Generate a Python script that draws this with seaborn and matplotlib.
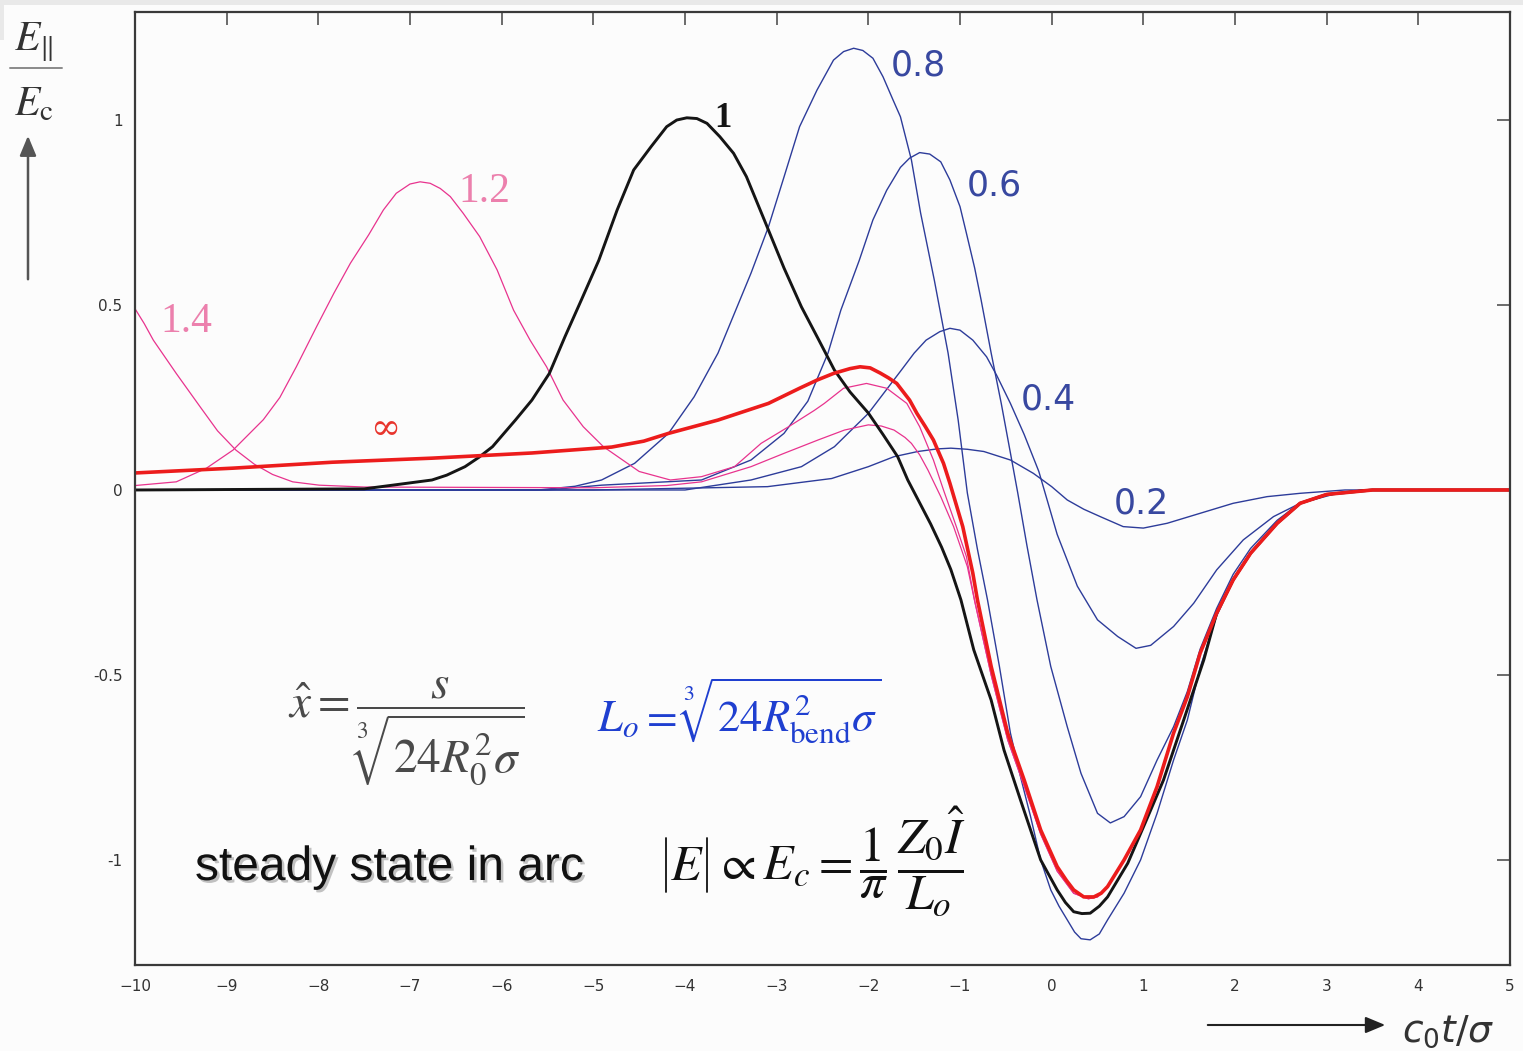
import matplotlib
matplotlib.use("Agg")
import matplotlib.pyplot as plt
import matplotlib.patheffects as pe
from matplotlib.patches import Rectangle, FancyArrowPatch
from matplotlib.lines import Line2D
import pandas as pd
import seaborn as sns

# ---- field profiles E_par / E_c versus c0 t / sigma, one per position x_hat ----
x_02 = [-10, -5, -3.1, -2.4, -2.0, -1.72, -1.46, -1.25, -1.1, -0.92, -0.74, -0.45, -0.2, 0.0, 0.17, 0.35, 0.53,
        0.78, 1.0, 1.26, 1.62, 1.98, 2.35, 2.71, 3.2, 5]
y_02 = [0, 0, 0.009, 0.031, 0.063, 0.09, 0.104, 0.111, 0.113, 0.11, 0.104, 0.081, 0.045, 0.009, -0.027, -0.052,
        -0.072, -0.099, -0.103, -0.09, -0.063, -0.036, -0.018, -0.009, 0, 0]

x_04 = [-10, -4.0, -3.28, -2.73, -2.37, -2.0, -1.64, -1.5, -1.37, -1.22, -1.11, -1.0, -0.86, -0.71, -0.6, -0.45,
        -0.3, -0.14, 0.06, 0.28, 0.5, 0.72, 0.92, 1.08, 1.33, 1.55, 1.8, 2.09, 2.42, 2.71, 3.1, 3.5, 5]
y_04 = [0, 0, 0.027, 0.063, 0.117, 0.207, 0.324, 0.37, 0.405, 0.428, 0.437, 0.432, 0.405, 0.36, 0.31, 0.234,
        0.15, 0.05, -0.12, -0.26, -0.351, -0.396, -0.428, -0.42, -0.369, -0.306, -0.216, -0.135, -0.072, -0.036,
        -0.01, 0, 0]

x_06 = [-10, -5.5, -4.91, -3.82, -3.28, -2.92, -2.66, -2.44, -2.3, -2.1, -1.95, -1.8, -1.65, -1.55, -1.44, -1.33,
        -1.21, -1.11, -1.0, -0.93, -0.84, -0.77, -0.66, -0.55, -0.45, -0.37, -0.27, -0.16, -0.01, 0.17, 0.32,
        0.5, 0.64, 0.79, 0.97, 1.15, 1.33, 1.48, 1.62, 1.8, 1.98, 2.17, 2.46, 2.71, 3.0, 3.4, 5]
y_06 = [0, 0, 0.013, 0.027, 0.081, 0.153, 0.24, 0.37, 0.486, 0.62, 0.73, 0.81, 0.872, 0.897, 0.912, 0.908,
        0.887, 0.838, 0.766, 0.694, 0.6, 0.514, 0.37, 0.234, 0.1, -0.008, -0.15, -0.297, -0.477, -0.64, -0.766,
        -0.874, -0.9, -0.883, -0.829, -0.73, -0.64, -0.545, -0.43, -0.32, -0.228, -0.158, -0.082, -0.035,
        -0.012, 0, 0]

x_08 = [-10, -5.6, -5.2, -4.91, -4.55, -4.18, -3.9, -3.64, -3.46, -3.28, -3.09, -2.92, -2.75, -2.56, -2.38,
        -2.27, -2.16, -2.06, -1.95, -1.84, -1.73, -1.65, -1.53, -1.43, -1.28, -1.13, -1.02, -0.92, -0.81, -0.7,
        -0.57, -0.45, -0.34, -0.23, -0.12, -0.01, 0.08, 0.17, 0.25, 0.32, 0.42, 0.52, 0.61, 0.79, 0.97, 1.15,
        1.33, 1.48, 1.62, 1.8, 1.98, 2.17, 2.46, 2.71, 3.0, 3.4, 5]
y_08 = [0, 0, 0.01, 0.027, 0.072, 0.153, 0.252, 0.37, 0.478, 0.586, 0.711, 0.846, 0.982, 1.081, 1.162, 1.185,
        1.194, 1.188, 1.167, 1.117, 1.054, 1.009, 0.892, 0.749, 0.567, 0.37, 0.189, -0.008, -0.16, -0.297,
        -0.477, -0.657, -0.775, -0.883, -1.0, -1.081, -1.125, -1.162, -1.195, -1.213, -1.216, -1.2, -1.162,
        -1.09, -1.0, -0.874, -0.73, -0.622, -0.48, -0.34, -0.245, -0.17, -0.09, -0.036, -0.012, 0, 0]

x_10 = [-10, -7.5, -7.19, -6.76, -6.6, -6.4, -6.25, -6.1, -5.85, -5.67, -5.48, -5.31, -5.13, -4.94, -4.74,
        -4.56, -4.37, -4.2, -4.09, -3.98, -3.87, -3.76, -3.62, -3.47, -3.33, -3.15, -2.92, -2.73, -2.55, -2.37,
        -2.2, -2.0, -1.84, -1.68, -1.57, -1.45, -1.32, -1.2, -1.1, -0.99, -0.85, -0.66, -0.52, -0.34, -0.12,
        0.06, 0.15, 0.24, 0.33, 0.42, 0.52, 0.61, 0.83, 1.02, 1.22, 1.44, 1.66, 1.8, 1.98, 2.17, 2.46, 2.71,
        3.0, 3.5, 5]
y_10 = [0, 0.003, 0.013, 0.027, 0.04, 0.063, 0.088, 0.117, 0.189, 0.243, 0.315, 0.414, 0.514, 0.621, 0.757,
        0.865, 0.928, 0.982, 1.0, 1.006, 1.004, 0.991, 0.955, 0.91, 0.847, 0.739, 0.6, 0.495, 0.41, 0.324,
        0.265, 0.208, 0.15, 0.09, 0.027, -0.03, -0.092, -0.155, -0.215, -0.297, -0.432, -0.568, -0.703,
        -0.838, -1.0, -1.081, -1.115, -1.14, -1.145, -1.144, -1.125, -1.1, -1.009, -0.9, -0.784, -0.622,
        -0.459, -0.333, -0.243, -0.171, -0.09, -0.036, -0.012, 0, 0]

x_12 = [-10, -9.55, -9.22, -8.93, -8.6, -8.42, -8.24, -8.02, -7.83, -7.65, -7.45, -7.29, -7.15, -7.0, -6.89,
        -6.78, -6.67, -6.56, -6.42, -6.24, -6.05, -5.87, -5.69, -5.51, -5.33, -5.11, -4.89, -4.5, -4.16, -3.82,
        -3.46, -3.17, -2.87, -2.59, -2.48, -2.27, -2.02, -1.8, -1.58, -1.44, -1.29, -1.18, -1.04, -0.93, -0.84,
        -0.66, -0.48, -0.3, -0.12, 0.06, 0.24, 0.4, 0.5, 0.61, 0.79, 0.97, 1.15, 1.33, 1.48, 1.62, 1.8, 1.98,
        2.17, 2.46, 2.71, 3.0, 3.5, 5]
y_12 = [0.012, 0.022, 0.059, 0.108, 0.19, 0.25, 0.333, 0.441, 0.532, 0.613, 0.69, 0.757, 0.802, 0.827, 0.833,
        0.829, 0.815, 0.793, 0.748, 0.685, 0.595, 0.486, 0.405, 0.333, 0.243, 0.171, 0.117, 0.05, 0.027, 0.036,
        0.063, 0.126, 0.171, 0.215, 0.234, 0.275, 0.288, 0.275, 0.234, 0.171, 0.081, 0.0, -0.099, -0.18, -0.3,
        -0.5, -0.675, -0.8, -0.93, -1.03, -1.09, -1.105, -1.1, -1.075, -1.0, -0.92, -0.8, -0.655, -0.555,
        -0.44, -0.332, -0.242, -0.17, -0.09, -0.036, -0.012, 0, 0]

x_14 = [-10, -9.9, -9.8, -9.55, -9.29, -9.1, -8.9, -8.7, -8.5, -8.28, -7.99, -7.5, -5.0, -4.2, -3.82, -3.28,
        -2.92, -2.55, -2.26, -2.0, -1.86, -1.72, -1.6, -1.53, -1.44, -1.35, -1.21, -1.07, -0.92, -0.84, -0.66,
        -0.48, -0.3, -0.12, 0.06, 0.24, 0.4, 0.5, 0.61, 0.79, 0.97, 1.15, 1.33, 1.48, 1.62, 1.8, 1.98, 2.17,
        2.46, 2.71, 3.0, 3.5, 5]
y_14 = [0.49, 0.45, 0.405, 0.315, 0.225, 0.16, 0.108, 0.07, 0.042, 0.022, 0.013, 0.008, 0.006, 0.012, 0.022,
        0.063, 0.099, 0.135, 0.162, 0.176, 0.173, 0.162, 0.142, 0.126, 0.095, 0.054, -0.018, -0.099, -0.207,
        -0.3, -0.5, -0.675, -0.8, -0.93, -1.03, -1.09, -1.105, -1.1, -1.075, -1.0, -0.92, -0.8, -0.655, -0.555,
        -0.44, -0.332, -0.242, -0.17, -0.09, -0.036, -0.012, 0, 0]

x_inf = [-10, -8.93, -7.85, -6.76, -5.67, -4.8, -4.45, -4.18, -3.64, -3.09, -2.75, -2.56, -2.38, -2.2, -2.09,
         -1.98, -1.87, -1.78, -1.69, -1.55, -1.47, -1.38, -1.29, -1.18, -1.11, -0.97, -0.86, -0.81, -0.66, -0.48,
         -0.3, -0.12, 0.06, 0.16, 0.24, 0.35, 0.46, 0.54, 0.61, 0.79, 0.97, 1.15, 1.33, 1.48, 1.62, 1.8, 1.98,
         2.17, 2.46, 2.71, 3.0, 3.5, 5]
y_inf = [0.046, 0.059, 0.075, 0.086, 0.1, 0.116, 0.132, 0.153, 0.189, 0.234, 0.275, 0.297, 0.315, 0.328, 0.333,
         0.33, 0.316, 0.303, 0.288, 0.243, 0.207, 0.172, 0.135, 0.072, 0.018, -0.099, -0.225, -0.297, -0.477,
         -0.657, -0.784, -0.919, -1.018, -1.055, -1.081, -1.1, -1.1, -1.09, -1.072, -1.0, -0.919, -0.802, -0.657,
         -0.559, -0.441, -0.333, -0.243, -0.171, -0.09, -0.036, -0.012, 0, 0]

x_ticks = [-10, -9, -8, -7, -6, -5, -4, -3, -2, -1, 0, 1, 2, 3, 4, 5]
x_tick_labels = ["\u221210", "\u22129", "\u22128", "\u22127", "\u22126", "\u22125", "\u22124", "\u22123",
                 "\u22122", "\u22121", "0", "1", "2", "3", "4", "5"]
y_ticks = [-1, -0.5, 0, 0.5, 1]
y_tick_labels = ["-1", "-0.5", "0", "0.5", "1"]

W, H, DPI = 1523, 1051, 100
BLUE = "#2d3c9a"
PINK = "#e8338e"
BLACK = "#151515"
RED = "#ec1c1c"

sns.set_theme(style="white")
plt.rcParams["font.family"] = ["DejaVu Sans"]
plt.rcParams["mathtext.fontset"] = "stix"

fig = plt.figure(figsize=(W / DPI, H / DPI), dpi=DPI, facecolor="#fcfcfc")


def fx(px):
    return px / W


def fy(py):
    return 1 - py / H


ax = fig.add_axes([fx(135), fy(965), (1510 - 135) / W, (965 - 12) / H])
ax.set_facecolor("#fcfcfc")

# thin grey strip along the top edge of the canvas
fig.patches.append(Rectangle((0, fy(5)), 1, 5 / H, transform=fig.transFigure,
                             facecolor="#e9e9e9", edgecolor="none", zorder=0))
fig.patches.append(Rectangle((0, fy(40)), 4 / W, 40 / H, transform=fig.transFigure,
                             facecolor="#e9e9e9", edgecolor="none", zorder=0))

curves = [
    (x_02, y_02, BLUE, 1.0),
    (x_04, y_04, BLUE, 1.0),
    (x_06, y_06, BLUE, 1.0),
    (x_08, y_08, BLUE, 1.0),
    (x_12, y_12, PINK, 0.9),
    (x_14, y_14, PINK, 0.9),
    (x_10, y_10, BLACK, 2.1),
    (x_inf, y_inf, RED, 2.6),
]
for xs, ys, col, lw in curves:
    df = pd.DataFrame({"t": xs, "E": ys})
    sns.lineplot(data=df, x="t", y="E", ax=ax, color=col, linewidth=lw,
                 sort=False, estimator=None, legend=False)

ax.set_xlim(-10, 5)
ax.set_ylim(-1.284, 1.292)
ax.set_xlabel("")
ax.set_ylabel("")
ax.set_xticks(x_ticks)
ax.set_xticklabels(x_tick_labels)
ax.set_yticks(y_ticks)
ax.set_yticklabels(y_tick_labels)
ax.tick_params(axis="both", direction="in", length=9.4, width=1.1, color="#444444",
               labelsize=11, labelcolor="#333333", top=True, right=True)
ax.tick_params(axis="x", pad=10)
ax.tick_params(axis="y", pad=9)
for sp in ax.spines.values():
    sp.set_color("#3a3a3a")
    sp.set_linewidth(1.6)
    sp.set_visible(True)

# curve labels
blue_lab = "#3848a0"
for txt, px, py in [("0.8", 918, 75), ("0.6", 994, 195), ("0.4", 1048, 410), ("0.2", 1141, 513)]:
    fig.text(fx(px), fy(py), txt, color=blue_lab, fontsize=25, ha="center", va="baseline",
             family="DejaVu Sans")
for txt, px, py in [("1.2", 484, 202), ("1.4", 186, 332)]:
    fig.text(fx(px), fy(py), txt, color="#ec80ad", fontsize=30, ha="center", va="baseline",
             family="Liberation Serif")
fig.text(fx(723), fy(127), "1", color=BLACK, fontsize=25, fontweight="bold", ha="center",
         va="baseline", family="Liberation Serif")
fig.text(fx(385), fy(429), "\u221e", color="#e8352d", fontsize=26, ha="center", va="center",
         family="DejaVu Serif")

# vertical quantity label with arrow
fig.text(fx(14), fy(50), r"$E_{\Vert}$", fontsize=30, color="#333333", ha="left", va="baseline")
fig.add_artist(Line2D([fx(10), fx(62)], [fy(68), fy(68)], color="#8a8a8a", lw=1.4))
fig.text(fx(14), fy(115), r"$E_{\mathrm{c}}$", fontsize=30, color="#333333", ha="left", va="baseline")
fig.add_artist(FancyArrowPatch((fx(28), fy(282)), (fx(28), fy(133)), transform=fig.transFigure,
                               arrowstyle="-|>,head_length=12,head_width=5", color="#555555",
                               lw=1.8, mutation_scale=1))

# horizontal quantity label with arrow
fig.add_artist(FancyArrowPatch((fx(1205), fy(1025)), (fx(1388), fy(1025)), transform=fig.transFigure,
                               arrowstyle="-|>,head_length=12,head_width=5", color="#222222",
                               lw=1.5, mutation_scale=1))
fig.text(fx(1402), fy(1042), r"$c_0t/\sigma$", fontsize=27, color="#333333", ha="left",
         va="baseline", math_fontfamily="dejavusans")

# formulas
fig.text(fx(288), fy(732), r"$\hat{x}=\dfrac{s}{\sqrt[3]{24R_0^2\sigma}}$", fontsize=34,
         color="#4a4a4a", ha="left", va="center")
fig.text(fx(597), fy(711), r"$L_o=\sqrt[3]{24R_{\mathrm{bend}}^2\sigma}$", fontsize=32,
         color="#1f3fd0", ha="left", va="center")

# |E| with tall bars, then the rest of the relation
for bx in (666, 707):
    fig.add_artist(Line2D([fx(bx), fx(bx)], [fy(838), fy(892)], color="#111111", lw=1.3))
fig.text(fx(687), fy(880), r"$E$", fontsize=36, color="#111111", ha="center", va="baseline")
fig.text(fx(714), fy(880), r"$\propto E_c=\dfrac{1}{\pi}\,\dfrac{Z_0\hat{I}}{L_o}$",
         fontsize=36, color="#111111", ha="left", va="baseline")

fig.text(fx(195), fy(880), "steady state in arc", fontsize=34.5, color="#111111", ha="left",
         va="baseline", family="Liberation Sans",
         path_effects=[pe.withSimplePatchShadow(offset=(1.8, -1.8), shadow_rgbFace="#9a9a9a", alpha=0.6)])

fig.savefig("out.png", dpi=DPI, facecolor=fig.get_facecolor())
